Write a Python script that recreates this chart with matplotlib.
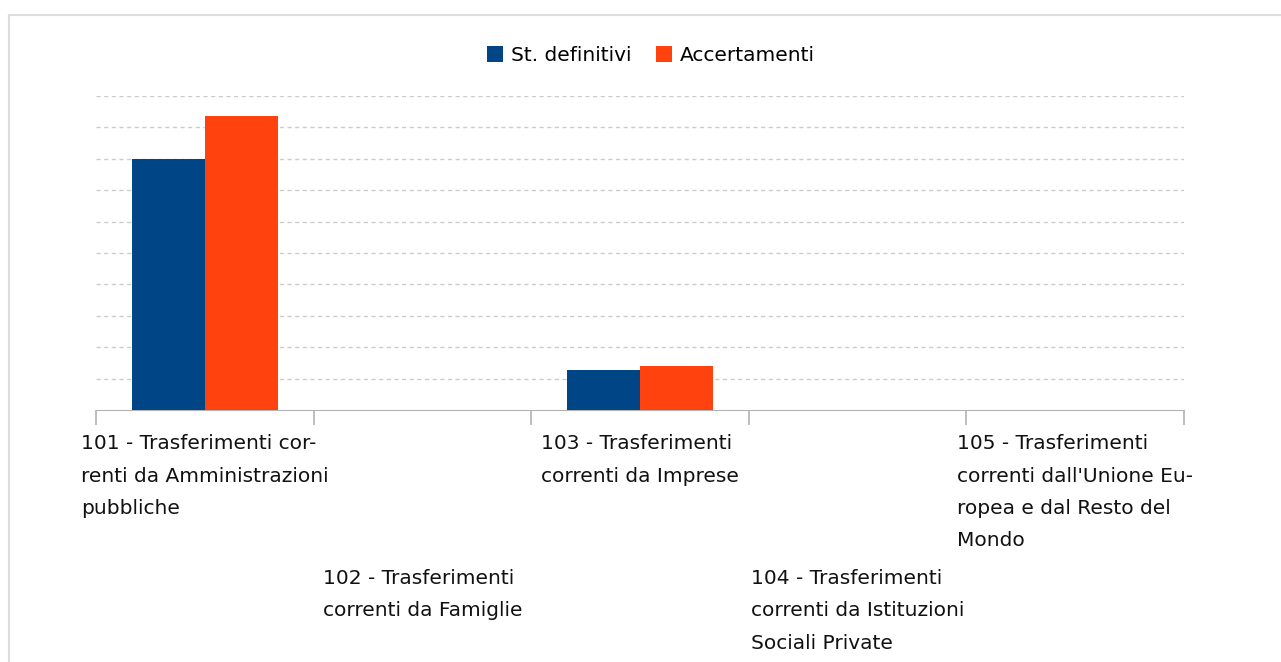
import numpy as np
import matplotlib.pyplot as plt
from matplotlib.lines import Line2D
from matplotlib.transforms import blended_transform_factory

plt.rcParams['font.family'] = ['DejaVu Sans']

categories = [
    "101 - Trasferimenti cor-\nrenti da Amministrazioni\npubbliche",
    "102 - Trasferimenti\ncorrenti da Famiglie",
    "103 - Trasferimenti\ncorrenti da Imprese",
    "104 - Trasferimenti\ncorrenti da Istituzioni\nSociali Private",
    "105 - Trasferimenti\ncorrenti dall'Unione Eu-\nropea e dal Resto del\nMondo",
]
st_definitivi = [8.0, 0, 1.27, 0, 0]
accertamenti = [9.37, 0, 1.40, 0, 0]

W, H = 1281, 662
fig = plt.figure(figsize=(W / 100, H / 100), dpi=100)
fig.patch.set_facecolor('white')

# outer frame (top and left edges visible)
fig.add_artist(Line2D([9 / W, 9 / W], [0, 1 - 15 / H], color='#dddddd', lw=1.5))
fig.add_artist(Line2D([9 / W, 1], [1 - 15 / H, 1 - 15 / H], color='#dddddd', lw=1.5))

ax = fig.add_axes([96 / W, 1 - 410 / H, (1184 - 96) / W, (410 - 96) / H])

x = np.arange(len(categories))
bw = 0.335
ax.bar(x - bw / 2, st_definitivi, bw, color='#004586', label='St. definitivi', zorder=3)
ax.bar(x + bw / 2, accertamenti, bw, color='#ff420e', label='Accertamenti', zorder=3)

ax.set_xlim(-0.5, len(categories) - 0.5)
ax.set_ylim(0, 10)
ax.set_yticks(np.arange(1, 11))
ax.set_yticklabels([])
ax.tick_params(axis='y', length=0)
ax.yaxis.grid(True, color='#cccccc', linestyle=(0, (3, 2.5)), lw=1)

for s in ['top', 'right', 'left']:
    ax.spines[s].set_visible(False)
ax.spines['bottom'].set_color('#b3b3b3')
ax.set_xticks(np.arange(-0.5, len(categories)), minor=False)
ax.set_xticklabels([])
ax.tick_params(axis='x', length=11, color='#b3b3b3', direction='out', width=1.2)

trans = blended_transform_factory(ax.transData, fig.transFigure)
for i, lab in enumerate(categories):
    ytop = 1 - (434 if i % 2 == 0 else 569) / H
    ax.text(i, ytop, lab, transform=trans, ha='center', va='top',
            multialignment='left', fontsize=14.5, linespacing=1.9, color='#111111')

fig.legend(loc='upper center', bbox_to_anchor=(0.508, 1 - 46 / H), ncol=2, frameon=False,
           fontsize=14.5, handlelength=0.8, handleheight=0.8, handletextpad=0.4,
           columnspacing=1.2, borderaxespad=0, borderpad=0)

fig.savefig('out.png', dpi=100)
